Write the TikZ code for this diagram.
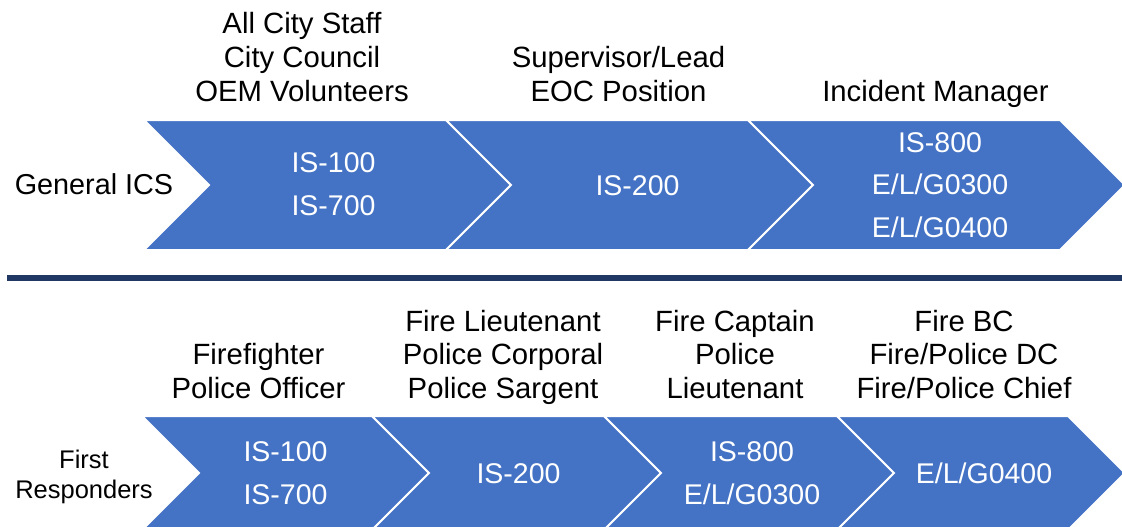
\documentclass[tikz,border=0pt]{standalone}
\usepackage{fontspec}
\setmainfont{Liberation Sans}
\definecolor{chevblue}{HTML}{4472C4}
\definecolor{navy}{HTML}{203864}
\tikzset{
  chev/.style={fill=chevblue, draw=white, line width=2pt, line join=miter},
  hdr/.style={anchor=base, align=center, inner sep=0pt, text=black,
    font=\fontsize{29.3}{33.5}\selectfont},
  hdrtop/.style={hdr, font=\fontsize{29.3}{34}\selectfont},
  inner/.style={anchor=base, align=center, inner sep=0pt, text=white,
    font=\fontsize{28.5}{42.5}\selectfont},
  side/.style={anchor=base, align=center, inner sep=0pt, text=black},
}
\begin{document}
\begin{tikzpicture}[x=1pt, y=-1pt]
\useasboundingbox (0,0) rectangle (1122,527);
% top row chevrons
\path[chev] (144,120) -- (446,120) -- (511,185) -- (446,250) -- (144,250) -- (209,185) -- cycle;
\path[chev] (446,120) -- (748,120) -- (813,185) -- (748,250) -- (446,250) -- (511,185) -- cycle;
\path[chev] (748,120) -- (1060,120) -- (1125,185) -- (1060,250) -- (748,250) -- (813,185) -- cycle;
% divider
\fill[navy] (7,275) rectangle (1122,281);
% bottom row chevrons
\path[chev] (142,416) -- (372,416) -- (429,473) -- (372,530) -- (142,530) -- (199,473) -- cycle;
\path[chev] (372,416) -- (604,416) -- (661,473) -- (604,530) -- (372,530) -- (429,473) -- cycle;
\path[chev] (604,416) -- (837,416) -- (894,473) -- (837,530) -- (604,530) -- (661,473) -- cycle;
\path[chev] (837,416) -- (1068,416) -- (1125,473) -- (1068,530) -- (837,530) -- (894,473) -- cycle;

% top row labels (anchor = baseline of last line)
\node[side, font=\fontsize{28.8}{34}\selectfont] (gen) at (94,194) {General ICS};
\node[hdrtop] (h1) at (302,101) {All City Staff\\City Council\\OEM Volunteers};
\node[hdrtop] (h2) at (618.5,101) {Supervisor/Lead\\EOC Position};
\node[hdrtop] (h3) at (935.5,101) {Incident Manager};
\node[inner] (i1) at (333.5,215) {IS-100\\IS-700};
\node[inner] (i2) at (637.5,195) {IS-200};
\node[inner] (i3) at (940,237) {IS-800\\E/L/G0300\\E/L/G0400};

% bottom row labels
\node[side, font=\fontsize{25.5}{30}\selectfont] (fr) at (84,498) {First\\Responders};
\node[hdr] (b1) at (258.5,398) {Firefighter\\Police Officer};
\node[hdr] (b2) at (503,398) {Fire Lieutenant\\Police Corporal\\Police Sargent};
\node[hdr] (b3) at (735,398) {Fire Captain\\Police\\Lieutenant};
\node[hdr] (b4) at (964,398) {Fire BC\\Fire/Police DC\\Fire/Police Chief};
\node[inner] (j1) at (285.5,504) {IS-100\\IS-700};
\node[inner] (j2) at (518.5,483) {IS-200};
\node[inner] (j3) at (752,504) {IS-800\\E/L/G0300};
\node[inner] (j4) at (984,483) {E/L/G0400};
\end{tikzpicture}
\end{document}
